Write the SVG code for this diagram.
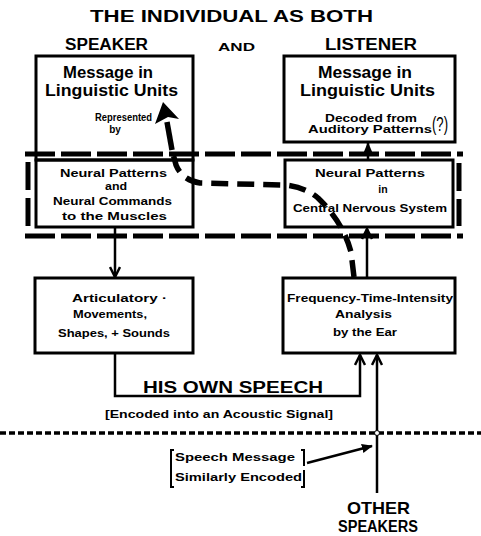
<svg xmlns="http://www.w3.org/2000/svg" width="481" height="536" viewBox="0 0 481 536">
<style>
text{font-family:"Liberation Sans",Arial,sans-serif;font-weight:bold;fill:#000;text-anchor:middle}
.box{fill:none;stroke:#000;stroke-width:3}
.ln{fill:none;stroke:#000;stroke-width:2.5}
.dash{fill:none;stroke:#000;stroke-width:5;stroke-dasharray:30 6}
.vdash{fill:none;stroke:#000;stroke-width:5;stroke-dasharray:28 8}
.big{font-size:17px}
.med{font-size:16px}
.sm{font-size:10.5px}
</style>
<defs>
<marker id="ah" viewBox="0 0 12 12" refX="11" refY="6" markerWidth="12" markerHeight="12" markerUnits="userSpaceOnUse" orient="auto">
<path d="M1,1 L11,6 L1,11" fill="none" stroke="#000" stroke-width="2.5"/>
</marker>
<marker id="af" viewBox="0 0 12 12" refX="11" refY="6" markerWidth="11" markerHeight="11" markerUnits="userSpaceOnUse" orient="auto">
<path d="M0,1 L12,6 L0,11 Z" fill="#000"/>
</marker>
</defs>

<g id="titles">
<text x="231.5" y="22" class="big" textLength="283" lengthAdjust="spacingAndGlyphs">THE INDIVIDUAL AS BOTH</text>
<text x="106.5" y="50" class="med" textLength="83" lengthAdjust="spacingAndGlyphs">SPEAKER</text>
<text x="236.5" y="51" style="font-size:11px" textLength="37" lengthAdjust="spacingAndGlyphs">AND</text>
<text x="371" y="50" class="med" textLength="92" lengthAdjust="spacingAndGlyphs">LISTENER</text>
</g>

<g id="speaker-message">
<rect class="box" x="36" y="56" width="157" height="104"/>
<text x="108" y="78" class="big" textLength="90" lengthAdjust="spacingAndGlyphs">Message in</text>
<text x="111.5" y="96" class="big" textLength="133" lengthAdjust="spacingAndGlyphs">Linguistic Units</text>
<text x="123.5" y="121" style="font-size:10px" textLength="57" lengthAdjust="spacingAndGlyphs">Represented</text>
<text x="115" y="133" style="font-size:10px">by</text>
</g>

<g id="listener-message">
<rect class="box" x="284" y="56" width="171" height="86"/>
<text x="365" y="78" class="big" textLength="94" lengthAdjust="spacingAndGlyphs">Message in</text>
<text x="367.5" y="96" class="big" textLength="135" lengthAdjust="spacingAndGlyphs">Linguistic Units</text>
<text x="371" y="122" class="sm" textLength="92" lengthAdjust="spacingAndGlyphs">Decoded from</text>
<text x="370" y="133" class="sm" textLength="124" lengthAdjust="spacingAndGlyphs">Auditory Patterns</text>
<text x="440" y="131" style="font-size:21px;font-weight:normal" textLength="16" lengthAdjust="spacingAndGlyphs">(?)</text>
</g>

<g id="speaker-neural">
<rect class="box" x="36" y="160" width="157" height="67"/>
<text x="113.5" y="177" class="sm" textLength="107" lengthAdjust="spacingAndGlyphs">Neural Patterns</text>
<text x="116" y="190" class="sm" textLength="22" lengthAdjust="spacingAndGlyphs">and</text>
<text x="112.5" y="205" class="sm" textLength="119" lengthAdjust="spacingAndGlyphs">Neural Commands</text>
<text x="114.5" y="220" class="sm" textLength="105" lengthAdjust="spacingAndGlyphs">to the Muscles</text>
</g>

<g id="listener-neural">
<rect class="box" x="285" y="160" width="168" height="67"/>
<text x="370" y="177" class="sm" textLength="110" lengthAdjust="spacingAndGlyphs">Neural Patterns</text>
<text x="383" y="193" class="sm">in</text>
<text x="370" y="212" class="sm" textLength="154" lengthAdjust="spacingAndGlyphs">Central Nervous System</text>
</g>

<g id="articulatory">
<rect class="box" x="35" y="278" width="158" height="75"/>
<text x="119.5" y="302" class="sm" textLength="95" lengthAdjust="spacingAndGlyphs">Articulatory ·</text>
<text x="110" y="318" class="sm" textLength="74" lengthAdjust="spacingAndGlyphs">Movements,</text>
<text x="114" y="337" class="sm" textLength="112" lengthAdjust="spacingAndGlyphs">Shapes, + Sounds</text>
</g>

<g id="ear-analysis">
<rect class="box" x="283" y="278" width="172" height="75"/>
<text x="370" y="302" class="sm" textLength="166" lengthAdjust="spacingAndGlyphs">Frequency-Time-Intensity</text>
<text x="363.5" y="318" class="sm" textLength="57" lengthAdjust="spacingAndGlyphs">Analysis</text>
<text x="365" y="336" class="sm" textLength="64" lengthAdjust="spacingAndGlyphs">by the Ear</text>
</g>

<g id="nervous-system-boundary">
<line class="dash" x1="25" y1="154" x2="463" y2="154"/>
<line class="dash" x1="25" y1="236" x2="463" y2="236"/>
<line class="vdash" x1="28" y1="162" x2="28" y2="226"/>
<line class="vdash" x1="459" y1="163" x2="459" y2="226"/>
</g>

<g id="acoustic-boundary">
<line x1="0" y1="433" x2="481" y2="433" stroke="#000" stroke-width="3.5" stroke-dasharray="6 3"/>
</g>

<g id="connectors">
<line class="ln" x1="368" y1="160" x2="368" y2="143" marker-end="url(#af)"/>
<line class="ln" x1="115" y1="227" x2="115" y2="277" marker-end="url(#ah)"/>
<line class="ln" x1="367" y1="278" x2="367" y2="229" marker-end="url(#ah)"/>
<path class="ln" d="M115,353 L115,396 L360,396 L360,355" marker-end="url(#ah)"/>
<line class="ln" x1="377" y1="493" x2="377" y2="355" marker-end="url(#ah)"/>
<path d="M354,277 L351,252 Q343,222 318,198 Q305,187 285,185 L200,183 Q182,180 176,165 L172,150" fill="none" stroke="#000" stroke-width="5.5" stroke-dasharray="17 9"/>
<line x1="172" y1="150" x2="167" y2="122" stroke="#000" stroke-width="5.5"/>
<path d="M163,102 L179,119 L168,117 L155,124 Z" fill="#000"/>
<line x1="307" y1="463" x2="372" y2="446" stroke="#000" stroke-width="2.5" marker-end="url(#af)"/>
<circle cx="377" cy="433" r="2.5" fill="#fff" stroke="#000" stroke-width="1"/>
</g>

<g id="labels">
<text x="233" y="393" class="med" textLength="180" lengthAdjust="spacingAndGlyphs">HIS OWN SPEECH</text>
<text x="219" y="418" style="font-size:11px" textLength="228" lengthAdjust="spacingAndGlyphs">[Encoded into an Acoustic Signal]</text>
<path d="M174,450 L171,450 L171,487 L174,487 M301,450 L304,450 L304,466 M304,470 L304,487 L301,487" fill="none" stroke="#000" stroke-width="2"/>
<text x="235" y="461" class="sm" textLength="120" lengthAdjust="spacingAndGlyphs">Speech Message</text>
<text x="238.5" y="481" class="sm" textLength="127" lengthAdjust="spacingAndGlyphs">Similarly Encoded</text>
<text x="378.5" y="514" class="big" textLength="63" lengthAdjust="spacingAndGlyphs">OTHER</text>
<text x="378" y="532" style="font-size:16px" textLength="80" lengthAdjust="spacingAndGlyphs">SPEAKERS</text>
</g>
</svg>
